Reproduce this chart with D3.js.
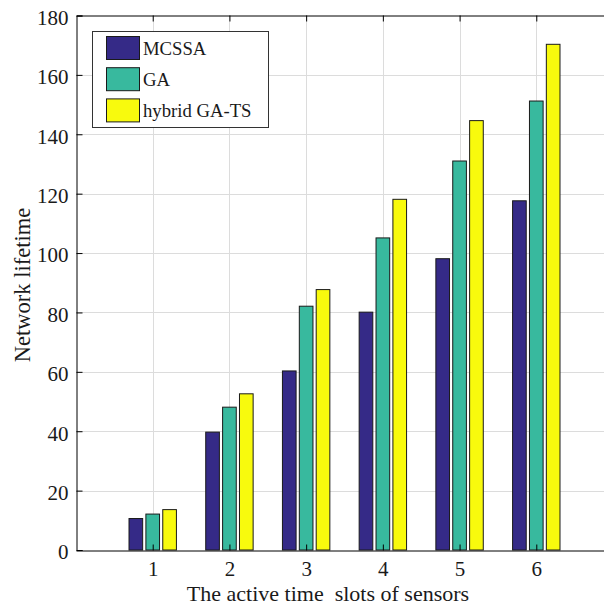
<!DOCTYPE html>
<html lang="en">
<head>
    <meta charset="UTF-8">
    <script src="https://cdn.jsdelivr.net/npm/d3@7"></script>
    <title>Network lifetime</title>
    <style>
        body { margin: 0; background: white; }
        svg { display: block; font-family: "Liberation Serif", "Times New Roman", serif; }
        .grid line { stroke: #dcdcdc; stroke-width: 1px; }
        .tick text { font-family: "Liberation Serif", "Times New Roman", serif; font-size: 21px; fill: #1a1a1a; }
    </style>
</head>
<body>
    <div id="chart"></div>
    <script>
        // data
        const slots = [1, 2, 3, 4, 5, 6];
        const seriesNames = ["MCSSA", "GA", "hybrid GA-TS"];
        const mcssa = [10.6, 39.7, 60.3, 80.1, 98.1, 117.6];
        const ga = [12.1, 48.1, 82.1, 105.1, 131.0, 151.2];
        const hybrid = [13.6, 52.6, 87.7, 118.1, 144.6, 170.3];
        const yTicks = [0, 20, 40, 60, 80, 100, 120, 140, 160, 180];
        const colors = ["#352a87", "#38b99e", "#f8fa0d"];

        const svgWidth = 604, svgHeight = 608;
        const plotLeft = 76, plotTop = 15.5, plotBottom = 550;

        const svg = d3.select("#chart").append("svg")
            .attr("width", svgWidth)
            .attr("height", svgHeight);

        const x = d3.scaleLinear().domain([0, 7]).range([plotLeft, 613]);
        const y = d3.scaleLinear().domain([0, 180]).range([plotBottom, plotTop]);

        // grid
        const grid = svg.append("g").attr("class", "grid");
        grid.selectAll(".gy").data(yTicks.slice(1, -1)).enter().append("line")
            .attr("x1", plotLeft).attr("x2", svgWidth)
            .attr("y1", d => Math.round(y(d)) + 0.5).attr("y2", d => Math.round(y(d)) + 0.5);
        grid.selectAll(".gx").data(slots).enter().append("line")
            .attr("x1", d => Math.round(x(d)) + 0.5).attr("x2", d => Math.round(x(d)) + 0.5)
            .attr("y1", plotTop).attr("y2", plotBottom);

        // bars
        const series = [mcssa, ga, hybrid];
        const offset = 0.22, barW = x(0.178) - x(0);
        series.forEach((vals, i) => {
            svg.append("g").selectAll("rect")
                .data(vals).enter().append("rect")
                .attr("x", (d, j) => x(slots[j] + (i - 1) * offset) - barW / 2)
                .attr("y", d => y(d))
                .attr("width", barW)
                .attr("height", d => y(0) - y(d))
                .attr("fill", colors[i])
                .attr("stroke", "#1a1a1a")
                .attr("stroke-width", 1);
        });

        // axes
        const yAxis = d3.axisLeft(y).tickValues(yTicks).tickSize(-6).tickPadding(8);
        svg.append("g")
            .attr("transform", `translate(${plotLeft + 0.5},0)`)
            .call(yAxis)
            .call(g => g.select(".domain").attr("stroke", "#000"))
            .call(g => g.selectAll("text").attr("dy", "0.42em"));

        const xAxis = d3.axisBottom(x).tickValues(slots).tickFormat(d3.format("d"))
            .tickSize(-6).tickPadding(11).tickSizeOuter(0);
        svg.append("g")
            .attr("transform", `translate(0,${plotBottom + 0.5})`)
            .call(xAxis);

        const xTop = d3.axisTop(x).tickValues(slots).tickSize(-6).tickFormat("").tickSizeOuter(0);
        svg.append("g")
            .attr("transform", `translate(0,${plotTop})`)
            .call(xTop);

        // axis titles
        svg.append("text")
            .attr("x", 328).attr("y", 601)
            .attr("text-anchor", "middle")
            .attr("font-size", 22)
            .attr("fill", "#1a1a1a")
            .style("white-space", "pre")
            .text("The active time  slots of sensors");

        svg.append("text")
            .attr("transform", "translate(30,285) rotate(-90)")
            .attr("text-anchor", "middle")
            .attr("font-size", 22.5)
            .attr("fill", "#1a1a1a")
            .text("Network lifetime");

        // legend
        const legend = svg.append("g");
        legend.append("rect")
            .attr("x", 92.5).attr("y", 31.5)
            .attr("width", 176).attr("height", 96)
            .attr("fill", "white")
            .attr("stroke", "#333")
            .attr("stroke-width", 1);
        seriesNames.forEach((name, i) => {
            const yy = 36 + i * 31.2;
            legend.append("rect")
                .attr("x", 106.5).attr("y", yy + 0.5)
                .attr("width", 33).attr("height", 23)
                .attr("fill", colors[i])
                .attr("stroke", "#1a1a1a");
            legend.append("text")
                .attr("x", 143).attr("y", yy + 18.5)
                .attr("font-size", 18.7)
                .attr("fill", "#1a1a1a")
                .text(name);
        });
    </script>
</body>
</html>
